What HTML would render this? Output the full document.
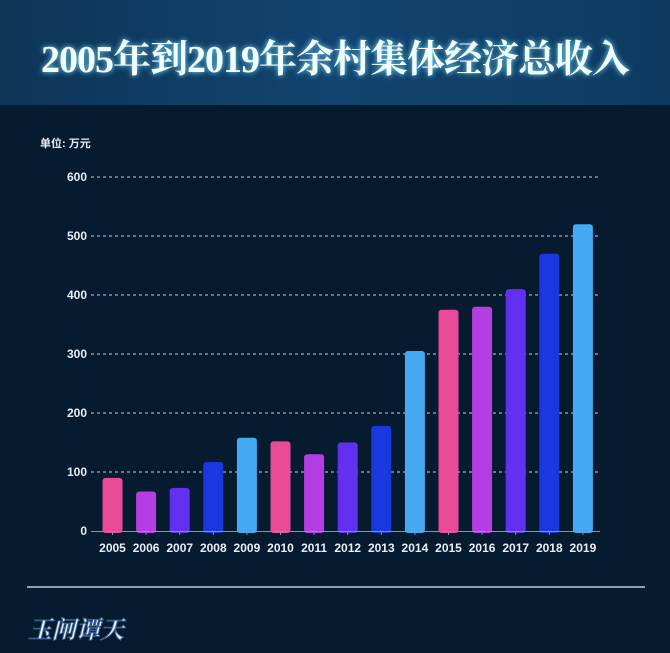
<!DOCTYPE html>
<html><head><meta charset="utf-8"><style>
body{margin:0;width:670px;height:653px;background:#061a30;overflow:hidden;font-family:"Liberation Sans","Noto Sans CJK SC",sans-serif}
.hdr{position:absolute;left:0;top:0;width:670px;height:105px;background:linear-gradient(90deg,#0d3558,#114470 50%,#0e3a60);}
.hdr div{position:absolute;left:0;width:670px;top:28px;text-align:center;font-family:"Liberation Serif","Noto Serif CJK SC",serif;font-weight:bold;font-size:38px;color:#f2ffff;text-shadow:0 0 6px #7fe0ff;letter-spacing:-1px}
</style></head><body>
<div class="hdr"><div>2005年到2019年余村集体经济总收入</div></div>
<svg width="670" height="653" style="position:absolute;left:0;top:0">
<text x="40" y="147" fill="#e8eef5" font-size="11" font-weight="bold" font-family="Liberation Sans,Noto Sans CJK SC,sans-serif">单位: 万元</text>
<g font-size="12" font-weight="bold" fill="#e8eef5" font-family="Liberation Sans,sans-serif" text-anchor="end">
<text x="87" y="181">600</text><text x="87" y="240">500</text><text x="87" y="299">400</text><text x="87" y="358">300</text><text x="87" y="417">200</text><text x="87" y="476">100</text><text x="87" y="535">0</text>
</g>
<g stroke="#c8d0da" stroke-width="1" stroke-dasharray="3,3">
<line x1="91" x2="600" y1="177" y2="177"/><line x1="91" x2="600" y1="236" y2="236"/><line x1="91" x2="600" y1="295" y2="295"/><line x1="91" x2="600" y1="354" y2="354"/><line x1="91" x2="600" y1="413" y2="413"/><line x1="91" x2="600" y1="472" y2="472"/>
</g>
<g id="bars"></g>
<line x1="91" x2="600" y1="531.5" y2="531.5" stroke="#8a96a8"/>
<g id="lbl" font-size="12" font-weight="bold" fill="#e8eef5" font-family="Liberation Sans,sans-serif" text-anchor="middle"></g>
<line x1="27" x2="645" y1="587" y2="587" stroke="#b8cce0" stroke-width="1.5"/>
<text x="28" y="638" fill="#e8f0ff" stroke="#3a6090" stroke-width="1" font-size="24" font-weight="bold" font-family="Noto Serif CJK SC,serif" font-style="italic">玉闸谭天</text>
</svg>
<script>
var v=[90,67,73,117,158,152,130,150,178,305,375,380,410,470,520];
var c=["#e84a98","#b33ee2","#6130f0","#1a38e0","#45aaf2"];
var b="",l="";
for(var i=0;i<15;i++){var cx=112.5+i*33.6,h=v[i]*0.59;
b+='<rect x="'+(cx-10)+'" y="'+(531-h)+'" width="20" height="'+(h+2)+'" rx="3" fill="'+c[i%5]+'"/>';
b+='<line x1="'+cx+'" x2="'+cx+'" y1="531" y2="535" stroke="#8a96a8"/>';
l+='<text x="'+cx+'" y="552">'+(2005+i)+'</text>';}
document.getElementById("bars").innerHTML=b;document.getElementById("lbl").innerHTML=l;
</script>
</body></html>
